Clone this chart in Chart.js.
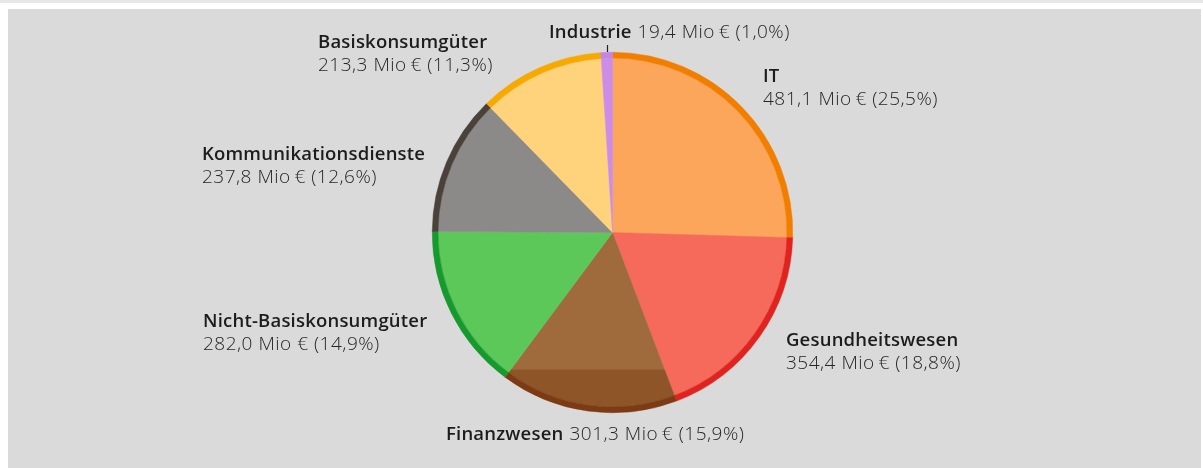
<!DOCTYPE html>
<html>
<head>
<meta charset="utf-8">
<script src="https://cdn.jsdelivr.net/npm/chart.js@4.4.1/dist/chart.umd.min.js"></script>
<style>
  html, body { margin: 0; padding: 0; background: #ffffff; }
  body { width: 1203px; height: 468px; position: relative; overflow: hidden; font-family: "Open Sans", "Noto Sans", sans-serif; }
  #topline { position: absolute; left: 0; top: 0; width: 1203px; height: 3px; background: #e6e6e6; }
  #panel { position: absolute; left: 8px; top: 9px; width: 1193px; height: 459px; background: #dadada; }
  #c { position: absolute; left: 0; top: 0; }
</style>
</head>
<body>
<div id="topline"></div>
<div id="panel"></div>
<canvas id="c" width="1203" height="468"></canvas>
<script>
// ---- data ----
const categories = ["IT", "Gesundheitswesen", "Finanzwesen", "Nicht-Basiskonsumgüter", "Kommunikationsdienste", "Basiskonsumgüter", "Industrie"];
const valuesMio = [481.1, 354.4, 301.3, 282.0, 237.8, 213.3, 19.4];
const percents = [25.5, 18.8, 15.9, 14.9, 12.6, 11.3, 1.0];

// ---- styles ----
const fillColors = ["#fba65a", "#f56a5a", "#a06b3c", "#5cc85a", "#8c8a89", "#ffd27c", "#cc8ce8"];
const rimColors  = ["#f27e00", "#e1231f", "#7c3b12", "#169a2e", "#4a413b", "#f8a900", "#c486e3"];
const finBandColor = "#8d5528";
// label anchor positions: x, baseline y, two-line flag
const labelLayout = [
  {x: 763, y: 82, two: true, tight: true},
  {x: 786, y: 346, two: true, tight: true},
  {x: 446, y: 440, two: false, tight: true},
  {x: 203, y: 327, two: true, tight: false},
  {x: 202, y: 160, two: true, tight: true},
  {x: 318, y: 48, two: true, tight: true},
  {x: 549, y: 38, two: false, tight: true}
];

function fmt(v) { return v.toFixed(1).replace('.', ','); }

const labelPlugin = {
  id: 'labels',
  afterDraw(chart) {
    const ctx = chart.ctx;
    ctx.save();
    ctx.textBaseline = 'alphabetic';
    ctx.textAlign = 'left';
    categories.forEach((name, i) => {
      const L = labelLayout[i];
      const sp = L.tight ? '\u2009' : ' ';
      const val = fmt(valuesMio[i]) + ' Mio' + sp + '€ (' + fmt(percents[i]) + '%)';
      ctx.font = '600 18.5px "Open Sans"';
      ctx.letterSpacing = '0.2px';
      ctx.fillStyle = '#1c1c1c';
      ctx.fillText(name, L.x, L.y);
      const w = ctx.measureText(name).width;
      ctx.font = '300 19px "Open Sans"';
      ctx.letterSpacing = '0.5px';
      ctx.fillStyle = '#262626';
      if (L.two) {
        ctx.fillText(val, L.x, L.y + 23);
      } else {
        ctx.fillText(val, L.x + w + 6, L.y);
      }
    });
    ctx.letterSpacing = '0px';
    // leader tick for Industrie
    ctx.strokeStyle = '#222';
    ctx.lineWidth = 1.2;
    ctx.beginPath();
    ctx.moveTo(607.5, 45);
    ctx.lineTo(607.5, 52);
    ctx.stroke();
    ctx.restore();
  }
};

function innerFill(context) {
  const i = context.dataIndex;
  if (i === 2) {
    const chart = context.chart;
    const a = chart.chartArea;
    if (!a) return fillColors[i];
    const cy = (a.top + a.bottom) / 2;
    const r = Math.min(a.right - a.left, a.bottom - a.top) / 2;
    const g = chart.ctx.createLinearGradient(0, cy, 0, cy + r);
    g.addColorStop(0, fillColors[i]);
    g.addColorStop(0.755, fillColors[i]);
    g.addColorStop(0.765, finBandColor);
    g.addColorStop(1, finBandColor);
    return g;
  }
  return fillColors[i];
}

new Chart(document.getElementById('c'), {
  type: 'pie',
  data: {
    labels: categories,
    datasets: [
      { data: valuesMio, backgroundColor: rimColors, borderColor: rimColors, borderWidth: 0.5, weight: 1 },
      { data: valuesMio, backgroundColor: innerFill, borderColor: innerFill, borderWidth: 0.5, weight: 30 }
    ]
  },
  options: {
    responsive: false,
    animation: false,
    events: [],
    layout: { padding: { left: 432, right: 410, top: 52, bottom: 55 } },
    plugins: { legend: { display: false }, tooltip: { enabled: false } }
  },
  plugins: [labelPlugin]
});
</script>
</body>
</html>
